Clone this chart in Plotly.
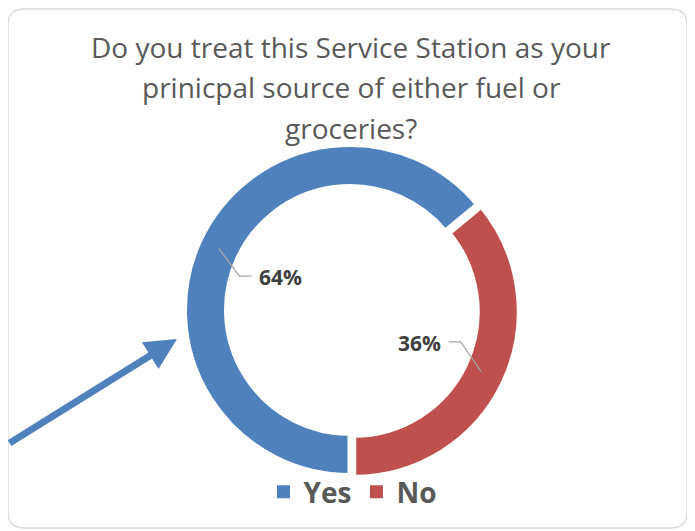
import math
import plotly.graph_objects as go

# data
categories = ["Yes", "No"]
values = [64, 36]
colors = ["#4F81BD", "#C0504D"]
pull = [0, 0.025]
title_lines = ["Do you treat this Service Station as your",
               "prinicpal source of either fuel or",
               "groceries?"]

# the page body has an 8px margin, so work in screen pixels and shift
OFF = 8
W, H = 695 - OFF, 531 - OFF
LW = 5                              # white gap between slices
cx, cy = 350, 310                   # donut centre on screen
R = 163 + LW / 2                    # outer radius incl. white edge
R_IN = 126 - LW / 2
R_MID = 145                         # leader line start
R_LBL = 77                          # label centre


def px(x, y):
    """screen pixel -> paper coordinates"""
    return (x - OFF) / W, 1 - (y - OFF) / H


half = R * (1 + max(pull))
d0, d1 = px(cx - half, cy + half), px(cx + half, cy - half)

fig = go.Figure(go.Pie(
    labels=categories,
    values=values,
    hole=R_IN / R,
    sort=False,
    pull=pull,
    direction="clockwise",
    rotation=180,
    marker=dict(colors=colors, line=dict(color="white", width=LW)),
    textinfo="none",
    hoverinfo="label+percent",
    showlegend=False,
    domain=dict(x=[d0[0], d1[0]], y=[d0[1], d1[1]]),
))

# legend entries with square markers
for cat, col in zip(categories, colors):
    fig.add_trace(go.Scatter(x=[None], y=[None], mode="markers", name=cat,
                             marker=dict(symbol="square", size=13, color=col)))

shapes = []
annotations = []

# data labels with leader lines
total = sum(values)
start = 180.0
for cat, v in zip(categories, values):
    mid = start + v / total * 360 / 2
    start += v / total * 360
    a = math.radians(mid)
    s, c = math.sin(a), math.cos(a)
    lx, ly = cx + R_LBL * s, cy - R_LBL * c
    side = -1 if s < 0 else 1          # which way the ring lies from the label
    x0, y0 = cx + R_MID * s, cy - R_MID * c
    x1 = lx + side * 41
    x2 = lx + side * 29
    p0, p1, p2 = px(x0, y0), px(x1, ly - 1), px(x2, ly - 1)
    shapes.append(dict(type="path", xref="paper", yref="paper",
                       path=f"M {p0[0]},{p0[1]} L {p1[0]},{p1[1]} L {p2[0]},{p2[1]}",
                       line=dict(color="#A6A6A6", width=1.3)))
    lp = px(lx, ly)
    annotations.append(dict(x=lp[0], y=lp[1], xref="paper", yref="paper",
                            text=f"<b>{round(v / total * 100)}%</b>", showarrow=False,
                            xanchor="center", yanchor="middle",
                            font=dict(size=21, color="#404040", family="Open Sans")))

# title, one annotation per line
for i, line in enumerate(title_lines):
    tx, ty = px(351, 47 + i * 40.5)
    annotations.append(dict(x=tx, y=ty, xref="paper", yref="paper", text=line,
                            showarrow=False, xanchor="center", yanchor="middle",
                            font=dict(size=28, color="#595959", family="Open Sans")))

# blue arrow pointing at the ring
hx, hy = px(177, 339)
annotations.append(dict(x=hx, y=hy, xref="paper", yref="paper", ax=-190, ay=105,
                        showarrow=True, arrowhead=2, arrowsize=0.9, arrowwidth=7,
                        arrowcolor="#4F81BD", text=""))

# rounded chart border
l, t, r, b, rad = 8, 9, 687, 528, 16
pts = [("M", l + rad, t), ("L", r - rad, t), ("Q", r, t, r, t + rad), ("L", r, b - rad),
       ("Q", r, b, r - rad, b), ("L", l + rad, b), ("Q", l, b, l, b - rad), ("L", l, t + rad),
       ("Q", l, t, l + rad, t)]
path = ""
for p in pts:
    cmd, coords = p[0], p[1:]
    pairs = [px(coords[k], coords[k + 1]) for k in range(0, len(coords), 2)]
    path += cmd + " " + " ".join(f"{a:.5f},{b_:.5f}" for a, b_ in pairs) + " "
shapes.append(dict(type="path", xref="paper", yref="paper", path=path + "Z",
                   line=dict(color="#D9D9D9", width=1.5), layer="below"))

lgx, lgy = px(353, 492)
fig.update_layout(
    width=W, height=H,
    margin=dict(l=0, r=0, t=0, b=0),
    paper_bgcolor="white",
    plot_bgcolor="rgba(0,0,0,0)",
    xaxis=dict(visible=False),
    yaxis=dict(visible=False),
    shapes=shapes,
    annotations=annotations,
    showlegend=True,
    legend=dict(orientation="h", x=lgx, xanchor="center", y=lgy, yanchor="middle",
                font=dict(size=28, color="#595959", family="Open Sans", weight="bold"),
                itemwidth=30, traceorder="normal", bgcolor="rgba(0,0,0,0)"),
)

fig.write_html("out.html")
